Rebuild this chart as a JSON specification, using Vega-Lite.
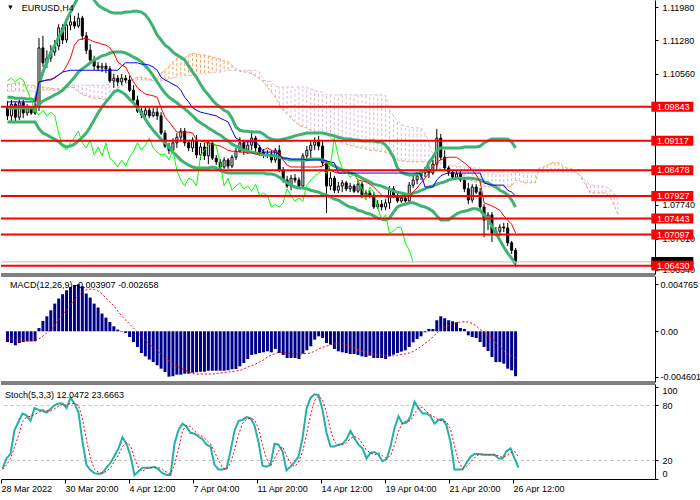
{
  "$schema": "https://vega.github.io/schema/vega-lite/v6.json",
  "background": "white",
  "padding": 0,
  "autosize": {"type": "pad"},
  "bounds": "flush",
  "spacing": 2,
  "resolve": {"scale": {"x": "independent", "y": "independent"}},
  "datasets": {
    "levels": [
      {"p": 1.09843}, {"p": 1.09117}, {"p": 1.08478}, {"p": 1.07927},
      {"p": 1.07443}, {"p": 1.07097}, {"p": 1.06430}
    ],
    "bars": [
      {"i":0,"o":1.0982,"h":1.0997,"l":1.0956,"c":1.0965,"bu":1.1005,"bm":1.0982,"bl":1.0952,"tk":1.0984,"kj":1.0995,"ck":1.1040,"m":-0.00109,"s":-0.00071,"k":11,"d":10},
      {"i":1,"o":1.0965,"h":1.0999,"l":1.0954,"c":1.0990,"bu":1.1005,"bm":1.0982,"bl":1.0952,"tk":1.0984,"kj":1.0995,"ck":1.1046,"m":-0.00119,"s":-0.00078,"k":22,"d":15},
      {"i":2,"o":1.0990,"h":1.0995,"l":1.0952,"c":1.0962,"bu":1.1003,"bm":1.0982,"bl":1.0952,"tk":1.0984,"kj":1.0995,"ck":1.1038,"m":-0.00142,"s":-0.00088,"k":27,"d":22},
      {"i":3,"o":1.0962,"h":1.1001,"l":1.0956,"c":1.0993,"bu":1.1003,"bm":1.0982,"bl":1.0952,"tk":1.0986,"kj":1.0995,"ck":1.1046,"m":-0.00119,"s":-0.00093,"k":53,"d":34},
      {"i":4,"o":1.0993,"h":1.0999,"l":1.0960,"c":1.0971,"bu":1.1003,"bm":1.0982,"bl":1.0952,"tk":1.0986,"kj":1.0995,"ck":1.1042,"m":-0.00109,"s":-0.00098,"k":62,"d":47},
      {"i":5,"o":1.0971,"h":1.0990,"l":1.0965,"c":1.0980,"bu":1.1001,"bm":1.0982,"bl":1.0952,"tk":1.0984,"kj":1.0995,"ck":1.1020,"m":-0.00102,"s":-0.00098,"k":71,"d":62},
      {"i":6,"o":1.0980,"h":1.0986,"l":1.0967,"c":1.0971,"bu":1.1001,"bm":1.0982,"bl":1.0952,"tk":1.0984,"kj":1.0995,"ck":1.0999,"m":-0.00102,"s":-0.00098,"k":69,"d":67},
      {"i":7,"o":1.0971,"h":1.0993,"l":1.0967,"c":1.0984,"bu":1.0999,"bm":1.0984,"bl":1.0952,"tk":1.0982,"kj":1.0995,"ck":1.0975,"m":-0.00102,"s":-0.00088,"k":63,"d":68},
      {"i":8,"o":1.0984,"h":1.1132,"l":1.0975,"c":1.1111,"bu":1.1031,"bm":1.0990,"bl":1.0937,"tk":1.1038,"kj":1.1038,"ck":1.0967,"m":0.00033,"s":-0.00078,"k":77,"d":70},
      {"i":9,"o":1.1111,"h":1.1137,"l":1.1070,"c":1.1079,"bu":1.1059,"bm":1.0997,"bl":1.0928,"tk":1.1040,"kj":1.1040,"ck":1.0977,"m":0.00105,"s":-0.00048,"k":75,"d":72},
      {"i":10,"o":1.1079,"h":1.1106,"l":1.1068,"c":1.1089,"bu":1.1081,"bm":1.1001,"bl":1.0924,"tk":1.1042,"kj":1.1042,"ck":1.0965,"m":0.00152,"s":-0.00017,"k":74,"d":75},
      {"i":11,"o":1.1089,"h":1.1117,"l":1.1081,"c":1.1102,"bu":1.1102,"bm":1.1005,"bl":1.0919,"tk":1.1044,"kj":1.1042,"ck":1.0973,"m":0.00213,"s":0.00013,"k":72,"d":74},
      {"i":12,"o":1.1102,"h":1.1128,"l":1.1094,"c":1.1115,"bu":1.1117,"bm":1.1010,"bl":1.0915,"tk":1.1046,"kj":1.1048,"ck":1.0965,"m":0.00281,"s":0.00064,"k":76,"d":74},
      {"i":13,"o":1.1115,"h":1.1162,"l":1.1106,"c":1.1154,"bu":1.1134,"bm":1.1014,"bl":1.0909,"tk":1.1053,"kj":1.1053,"ck":1.0928,"m":0.00332,"s":0.00115,"k":80,"d":76},
      {"i":14,"o":1.1154,"h":1.1162,"l":1.1119,"c":1.1128,"bu":1.1149,"bm":1.1020,"bl":1.0902,"tk":1.1059,"kj":1.1059,"ck":1.0900,"m":0.00376,"s":0.00175,"k":82,"d":79},
      {"i":15,"o":1.1128,"h":1.1171,"l":1.1122,"c":1.1160,"bu":1.1171,"bm":1.1029,"bl":1.0898,"tk":1.1072,"kj":1.1061,"ck":1.0891,"m":0.00416,"s":0.00216,"k":82,"d":81},
      {"i":16,"o":1.1160,"h":1.1184,"l":1.1149,"c":1.1167,"bu":1.1188,"bm":1.1038,"bl":1.0900,"tk":1.1089,"kj":1.1063,"ck":1.0907,"m":0.00450,"s":0.00267,"k":77,"d":80},
      {"i":17,"o":1.1167,"h":1.1180,"l":1.1152,"c":1.1158,"bu":1.1205,"bm":1.1048,"bl":1.0904,"tk":1.1117,"kj":1.1063,"ck":1.0919,"m":0.00470,"s":0.00317,"k":88,"d":82},
      {"i":18,"o":1.1158,"h":1.1186,"l":1.1154,"c":1.1175,"bu":1.1220,"bm":1.1059,"bl":1.0911,"tk":1.1128,"kj":1.1063,"ck":1.0932,"m":0.004765,"s":0.00358,"k":82,"d":82},
      {"i":19,"o":1.1175,"h":1.1180,"l":1.1128,"c":1.1137,"bu":1.1231,"bm":1.1066,"bl":1.0919,"tk":1.1130,"kj":1.1063,"ck":1.0907,"m":0.00457,"s":0.00399,"k":72,"d":80},
      {"i":20,"o":1.1137,"h":1.1145,"l":1.1098,"c":1.1106,"bu":1.1236,"bm":1.1072,"bl":1.0928,"tk":1.1132,"kj":1.1063,"ck":1.0896,"m":0.00383,"s":0.00419,"k":40,"d":65},
      {"i":21,"o":1.1106,"h":1.1119,"l":1.1079,"c":1.1085,"bu":1.1227,"bm":1.1079,"bl":1.0941,"tk":1.1128,"kj":1.1063,"ck":1.0913,"m":0.00342,"s":0.00429,"k":15,"d":42},
      {"i":22,"o":1.1085,"h":1.1094,"l":1.1063,"c":1.1072,"bu":1.1214,"bm":1.1085,"bl":1.0956,"tk":1.1124,"kj":1.1063,"ck":1.0881,"m":0.00281,"s":0.00424,"k":9,"d":22},
      {"i":23,"o":1.1072,"h":1.1081,"l":1.1061,"c":1.1068,"bu":1.1203,"bm":1.1089,"bl":1.0971,"tk":1.1122,"kj":1.1063,"ck":1.0898,"m":0.00241,"s":0.00409,"k":6,"d":10},
      {"i":24,"o":1.1068,"h":1.1079,"l":1.1059,"c":1.1072,"bu":1.1197,"bm":1.1094,"bl":1.0984,"tk":1.1119,"kj":1.1063,"ck":1.0879,"m":0.00180,"s":0.00378,"k":5,"d":7},
      {"i":25,"o":1.1072,"h":1.1079,"l":1.1057,"c":1.1066,"bu":1.1193,"bm":1.1096,"bl":1.0995,"tk":1.1117,"kj":1.1063,"ck":1.0907,"m":0.00139,"s":0.00338,"k":6,"d":6},
      {"i":26,"o":1.1066,"h":1.1072,"l":1.1036,"c":1.1040,"bu":1.1188,"bm":1.1100,"bl":1.1005,"tk":1.1111,"kj":1.1063,"ck":1.0874,"m":0.00094,"s":0.00297,"k":12,"d":8},
      {"i":27,"o":1.1040,"h":1.1055,"l":1.1025,"c":1.1046,"bu":1.1186,"bm":1.1102,"bl":1.1016,"tk":1.1100,"kj":1.1063,"ck":1.0866,"m":0.00051,"s":0.00257,"k":17,"d":12},
      {"i":28,"o":1.1046,"h":1.1053,"l":1.1029,"c":1.1038,"bu":1.1186,"bm":1.1102,"bl":1.1020,"tk":1.1081,"kj":1.1063,"ck":1.0855,"m":0.00017,"s":0.00206,"k":25,"d":19},
      {"i":29,"o":1.1038,"h":1.1055,"l":1.1031,"c":1.1046,"bu":1.1186,"bm":1.1102,"bl":1.1016,"tk":1.1074,"kj":1.1072,"ck":1.0870,"m":-0.00005,"s":0.00155,"k":33,"d":26},
      {"i":30,"o":1.1046,"h":1.1053,"l":1.1036,"c":1.1042,"bu":1.1188,"bm":1.1100,"bl":1.1010,"tk":1.1070,"kj":1.1079,"ck":1.0857,"m":-0.00017,"s":0.00115,"k":45,"d":35},
      {"i":31,"o":1.1042,"h":1.1051,"l":1.1016,"c":1.1020,"bu":1.1188,"bm":1.1096,"bl":1.1001,"tk":1.1053,"kj":1.1079,"ck":1.0876,"m":-0.00058,"s":0.00074,"k":38,"d":39},
      {"i":32,"o":1.1020,"h":1.1031,"l":1.0993,"c":1.0999,"bu":1.1190,"bm":1.1091,"bl":1.0993,"tk":1.1038,"kj":1.1079,"ck":1.0889,"m":-0.00109,"s":0.00033,"k":25,"d":36},
      {"i":33,"o":1.0999,"h":1.1008,"l":1.0971,"c":1.0975,"bu":1.1190,"bm":1.1087,"bl":1.0982,"tk":1.1025,"kj":1.1079,"ck":1.0907,"m":-0.00159,"s":-0.00007,"k":4,"d":22},
      {"i":34,"o":1.0975,"h":1.0982,"l":1.0960,"c":1.0967,"bu":1.1188,"bm":1.1081,"bl":1.0971,"tk":1.1018,"kj":1.1076,"ck":1.0891,"m":-0.00220,"s":-0.00048,"k":8,"d":12},
      {"i":35,"o":1.0967,"h":1.0984,"l":1.0962,"c":1.0977,"bu":1.1182,"bm":1.1072,"bl":1.0958,"tk":1.1012,"kj":1.1076,"ck":1.0902,"m":-0.00254,"s":-0.00088,"k":12,"d":8},
      {"i":36,"o":1.0977,"h":1.0982,"l":1.0960,"c":1.0965,"bu":1.1171,"bm":1.1063,"bl":1.0945,"tk":1.1010,"kj":1.1074,"ck":1.0917,"m":-0.00287,"s":-0.00129,"k":12,"d":11},
      {"i":37,"o":1.0965,"h":1.0982,"l":1.0962,"c":1.0973,"bu":1.1156,"bm":1.1051,"bl":1.0934,"tk":1.1008,"kj":1.1070,"ck":1.0896,"m":-0.00312,"s":-0.00159,"k":12,"d":12},
      {"i":38,"o":1.0973,"h":1.0984,"l":1.0956,"c":1.0965,"bu":1.1139,"bm":1.1038,"bl":1.0924,"tk":1.1005,"kj":1.1063,"ck":1.0887,"m":-0.00345,"s":-0.00190,"k":13,"d":12},
      {"i":39,"o":1.0965,"h":1.0973,"l":1.0924,"c":1.0928,"bu":1.1128,"bm":1.1025,"bl":1.0915,"tk":1.0982,"kj":1.1048,"ck":1.0881,"m":-0.00379,"s":-0.00230,"k":10,"d":12},
      {"i":40,"o":1.0928,"h":1.0934,"l":1.0896,"c":1.0900,"bu":1.1117,"bm":1.1014,"bl":1.0907,"tk":1.0962,"kj":1.1042,"ck":1.0883,"m":-0.00413,"s":-0.00271,"k":6,"d":10},
      {"i":41,"o":1.0900,"h":1.0907,"l":1.0883,"c":1.0891,"bu":1.1111,"bm":1.1005,"bl":1.0898,"tk":1.0952,"kj":1.1038,"ck":1.0870,"m":-0.00460,"s":-0.00301,"k":4,"d":7},
      {"i":42,"o":1.0891,"h":1.0917,"l":1.0887,"c":1.0907,"bu":1.1102,"bm":1.0999,"bl":1.0887,"tk":1.0941,"kj":1.1033,"ck":1.0891,"m":-0.00455,"s":-0.00332,"k":4,"d":5},
      {"i":43,"o":1.0907,"h":1.0928,"l":1.0896,"c":1.0919,"bu":1.1096,"bm":1.0993,"bl":1.0879,"tk":1.0930,"kj":1.1029,"ck":1.0848,"m":-0.00440,"s":-0.00357,"k":38,"d":15},
      {"i":44,"o":1.0919,"h":1.0939,"l":1.0913,"c":1.0932,"bu":1.1091,"bm":1.0986,"bl":1.0870,"tk":1.0930,"kj":1.1020,"ck":1.0827,"m":-0.00440,"s":-0.00372,"k":53,"d":32},
      {"i":45,"o":1.0932,"h":1.0939,"l":1.0900,"c":1.0907,"bu":1.1085,"bm":1.0980,"bl":1.0864,"tk":1.0930,"kj":1.1005,"ck":1.0814,"m":-0.00430,"s":-0.00392,"k":60,"d":52},
      {"i":46,"o":1.0907,"h":1.0913,"l":1.0889,"c":1.0896,"bu":1.1072,"bm":1.0973,"bl":1.0859,"tk":1.0930,"kj":1.0995,"ck":1.0831,"m":-0.00430,"s":-0.00413,"k":57,"d":58},
      {"i":47,"o":1.0896,"h":1.0919,"l":1.0887,"c":1.0913,"bu":1.1059,"bm":1.0965,"bl":1.0855,"tk":1.0928,"kj":1.0982,"ck":1.0827,"m":-0.00420,"s":-0.00428,"k":50,"d":57},
      {"i":48,"o":1.0913,"h":1.0924,"l":1.0874,"c":1.0881,"bu":1.1048,"bm":1.0956,"bl":1.0853,"tk":1.0913,"kj":1.0977,"ck":1.0814,"m":-0.00415,"s":-0.00433,"k":49,"d":52},
      {"i":49,"o":1.0881,"h":1.0907,"l":1.0870,"c":1.0898,"bu":1.1033,"bm":1.0950,"bl":1.0853,"tk":1.0911,"kj":1.0973,"ck":1.0879,"m":-0.00410,"s":-0.00433,"k":46,"d":48},
      {"i":50,"o":1.0898,"h":1.0907,"l":1.0870,"c":1.0879,"bu":1.1020,"bm":1.0945,"bl":1.0853,"tk":1.0909,"kj":1.0971,"ck":1.0891,"m":-0.00410,"s":-0.00433,"k":43,"d":46},
      {"i":51,"o":1.0879,"h":1.0913,"l":1.0861,"c":1.0907,"bu":1.1010,"bm":1.0939,"bl":1.0853,"tk":1.0907,"kj":1.0969,"ck":1.0902,"m":-0.00400,"s":-0.00433,"k":37,"d":42},
      {"i":52,"o":1.0907,"h":1.0911,"l":1.0870,"c":1.0874,"bu":1.0999,"bm":1.0934,"bl":1.0855,"tk":1.0904,"kj":1.0967,"ck":1.0909,"m":-0.00400,"s":-0.00433,"k":35,"d":38},
      {"i":53,"o":1.0874,"h":1.0881,"l":1.0859,"c":1.0866,"bu":1.0990,"bm":1.0928,"bl":1.0853,"tk":1.0902,"kj":1.0965,"ck":1.0900,"m":-0.00400,"s":-0.00428,"k":15,"d":29},
      {"i":54,"o":1.0866,"h":1.0872,"l":1.0848,"c":1.0855,"bu":1.0984,"bm":1.0924,"bl":1.0848,"tk":1.0900,"kj":1.0960,"ck":1.0864,"m":-0.00400,"s":-0.00423,"k":10,"d":20},
      {"i":55,"o":1.0855,"h":1.0876,"l":1.0851,"c":1.0870,"bu":1.0977,"bm":1.0917,"bl":1.0844,"tk":1.0896,"kj":1.0956,"ck":1.0814,"m":-0.00400,"s":-0.00418,"k":10,"d":12},
      {"i":56,"o":1.0870,"h":1.0874,"l":1.0851,"c":1.0857,"bu":1.0973,"bm":1.0911,"bl":1.0842,"tk":1.0891,"kj":1.0952,"ck":1.0831,"m":-0.00395,"s":-0.00413,"k":11,"d":10},
      {"i":57,"o":1.0857,"h":1.0881,"l":1.0853,"c":1.0876,"bu":1.0960,"bm":1.0904,"bl":1.0842,"tk":1.0889,"kj":1.0934,"ck":1.0805,"m":-0.00385,"s":-0.00408,"k":30,"d":17},
      {"i":58,"o":1.0876,"h":1.0896,"l":1.0870,"c":1.0889,"bu":1.0941,"bm":1.0900,"bl":1.0842,"tk":1.0889,"kj":1.0917,"ck":1.0814,"m":-0.00382,"s":-0.00403,"k":52,"d":31},
      {"i":59,"o":1.0889,"h":1.0919,"l":1.0887,"c":1.0907,"bu":1.0934,"bm":1.0896,"bl":1.0842,"tk":1.0887,"kj":1.0913,"ck":1.0821,"m":-0.00355,"s":-0.00397,"k":63,"d":48},
      {"i":60,"o":1.0907,"h":1.0913,"l":1.0881,"c":1.0891,"bu":1.0932,"bm":1.0891,"bl":1.0842,"tk":1.0887,"kj":1.0909,"ck":1.0808,"m":-0.00321,"s":-0.00382,"k":64,"d":60},
      {"i":61,"o":1.0891,"h":1.0911,"l":1.0883,"c":1.0902,"bu":1.0932,"bm":1.0889,"bl":1.0842,"tk":1.0885,"kj":1.0909,"ck":1.0814,"m":-0.00281,"s":-0.00362,"k":67,"d":65},
      {"i":62,"o":1.0902,"h":1.0934,"l":1.0891,"c":1.0917,"bu":1.0930,"bm":1.0887,"bl":1.0842,"tk":1.0885,"kj":1.0909,"ck":1.0803,"m":-0.00240,"s":-0.00347,"k":66,"d":66},
      {"i":63,"o":1.0917,"h":1.0922,"l":1.0887,"c":1.0896,"bu":1.0930,"bm":1.0885,"bl":1.0842,"tk":1.0883,"kj":1.0909,"ck":1.0818,"m":-0.00233,"s":-0.00332,"k":58,"d":64},
      {"i":64,"o":1.0896,"h":1.0902,"l":1.0879,"c":1.0887,"bu":1.0930,"bm":1.0883,"bl":1.0842,"tk":1.0883,"kj":1.0900,"ck":1.0793,"m":-0.00220,"s":-0.00311,"k":40,"d":55},
      {"i":65,"o":1.0887,"h":1.0894,"l":1.0874,"c":1.0881,"bu":1.0926,"bm":1.0881,"bl":1.0842,"tk":1.0891,"kj":1.0887,"ck":1.0799,"m":-0.00213,"s":-0.00291,"k":14,"d":37},
      {"i":66,"o":1.0881,"h":1.0891,"l":1.0874,"c":1.0883,"bu":1.0919,"bm":1.0881,"bl":1.0840,"tk":1.0896,"kj":1.0887,"ck":1.0793,"m":-0.00203,"s":-0.00261,"k":13,"d":22},
      {"i":67,"o":1.0883,"h":1.0891,"l":1.0864,"c":1.0870,"bu":1.0915,"bm":1.0879,"bl":1.0840,"tk":1.0891,"kj":1.0887,"ck":1.0769,"m":-0.00213,"s":-0.00240,"k":15,"d":14},
      {"i":68,"o":1.0870,"h":1.0896,"l":1.0864,"c":1.0891,"bu":1.0913,"bm":1.0879,"bl":1.0838,"tk":1.0887,"kj":1.0887,"ck":1.0775,"m":-0.00179,"s":-0.00225,"k":38,"d":22},
      {"i":69,"o":1.0891,"h":1.0902,"l":1.0844,"c":1.0848,"bu":1.0913,"bm":1.0876,"bl":1.0833,"tk":1.0885,"kj":1.0881,"ck":1.0769,"m":-0.00220,"s":-0.00210,"k":37,"d":30},
      {"i":70,"o":1.0848,"h":1.0855,"l":1.0821,"c":1.0827,"bu":1.0915,"bm":1.0874,"bl":1.0827,"tk":1.0870,"kj":1.0874,"ck":1.0778,"m":-0.00240,"s":-0.00215,"k":30,"d":35},
      {"i":71,"o":1.0827,"h":1.0836,"l":1.0810,"c":1.0814,"bu":1.0917,"bm":1.0872,"bl":1.0821,"tk":1.0859,"kj":1.0874,"ck":1.0808,"m":-0.00271,"s":-0.00220,"k":9,"d":25},
      {"i":72,"o":1.0814,"h":1.0838,"l":1.0805,"c":1.0831,"bu":1.0919,"bm":1.0870,"bl":1.0816,"tk":1.0855,"kj":1.0872,"ck":1.0793,"m":-0.00271,"s":-0.00225,"k":13,"d":17},
      {"i":73,"o":1.0831,"h":1.0840,"l":1.0821,"c":1.0827,"bu":1.0922,"bm":1.0870,"bl":1.0812,"tk":1.0855,"kj":1.0872,"ck":1.0782,"m":-0.00271,"s":-0.00230,"k":18,"d":13},
      {"i":74,"o":1.0827,"h":1.0833,"l":1.0808,"c":1.0814,"bu":1.0924,"bm":1.0870,"bl":1.0810,"tk":1.0855,"kj":1.0872,"ck":1.0788,"m":-0.00281,"s":-0.00230,"k":24,"d":18},
      {"i":75,"o":1.0814,"h":1.0885,"l":1.0808,"c":1.0879,"bu":1.0926,"bm":1.0870,"bl":1.0810,"tk":1.0855,"kj":1.0872,"ck":1.0782,"m":-0.00227,"s":-0.00230,"k":44,"d":29},
      {"i":76,"o":1.0879,"h":1.0900,"l":1.0870,"c":1.0891,"bu":1.0928,"bm":1.0870,"bl":1.0808,"tk":1.0855,"kj":1.0870,"ck":1.0816,"m":-0.00193,"s":-0.00225,"k":76,"d":48},
      {"i":77,"o":1.0891,"h":1.0913,"l":1.0874,"c":1.0902,"bu":1.0928,"bm":1.0872,"bl":1.0805,"tk":1.0855,"kj":1.0870,"ck":1.0827,"m":-0.00152,"s":-0.00220,"k":88,"d":69},
      {"i":78,"o":1.0902,"h":1.0919,"l":1.0891,"c":1.0909,"bu":1.0928,"bm":1.0872,"bl":1.0803,"tk":1.0855,"kj":1.0870,"ck":1.0836,"m":-0.00085,"s":-0.00200,"k":92,"d":85},
      {"i":79,"o":1.0909,"h":1.0922,"l":1.0891,"c":1.0900,"bu":1.0928,"bm":1.0872,"bl":1.0801,"tk":1.0855,"kj":1.0870,"ck":1.0842,"m":-0.00051,"s":-0.00179,"k":91,"d":90},
      {"i":80,"o":1.0900,"h":1.0913,"l":1.0857,"c":1.0864,"bu":1.0928,"bm":1.0870,"bl":1.0797,"tk":1.0857,"kj":1.0870,"ck":1.0848,"m":-0.00068,"s":-0.00164,"k":75,"d":86},
      {"i":81,"o":1.0864,"h":1.0870,"l":1.0756,"c":1.0814,"bu":1.0926,"bm":1.0866,"bl":1.0795,"tk":1.0864,"kj":1.0868,"ck":1.0842,"m":-0.00119,"s":-0.00149,"k":50,"d":72},
      {"i":82,"o":1.0814,"h":1.0844,"l":1.0805,"c":1.0831,"bu":1.0924,"bm":1.0861,"bl":1.0790,"tk":1.0848,"kj":1.0866,"ck":1.0861,"m":-0.00135,"s":-0.00139,"k":35,"d":53},
      {"i":83,"o":1.0831,"h":1.0836,"l":1.0799,"c":1.0805,"bu":1.0922,"bm":1.0857,"bl":1.0786,"tk":1.0844,"kj":1.0864,"ck":1.0917,"m":-0.00179,"s":-0.00129,"k":35,"d":40},
      {"i":84,"o":1.0805,"h":1.0823,"l":1.0799,"c":1.0814,"bu":1.0919,"bm":1.0853,"bl":1.0784,"tk":1.0842,"kj":1.0842,"ck":1.0876,"m":-0.00203,"s":-0.00126,"k":37,"d":36},
      {"i":85,"o":1.0814,"h":1.0827,"l":1.0801,"c":1.0821,"bu":1.0917,"bm":1.0848,"bl":1.0778,"tk":1.0842,"kj":1.0842,"ck":1.0853,"m":-0.00213,"s":-0.00126,"k":38,"d":37},
      {"i":86,"o":1.0821,"h":1.0825,"l":1.0803,"c":1.0808,"bu":1.0915,"bm":1.0846,"bl":1.0773,"tk":1.0842,"kj":1.0842,"ck":1.0844,"m":-0.00220,"s":-0.00134,"k":43,"d":39},
      {"i":87,"o":1.0808,"h":1.0821,"l":1.0801,"c":1.0814,"bu":1.0915,"bm":1.0842,"bl":1.0769,"tk":1.0842,"kj":1.0842,"ck":1.0833,"m":-0.00230,"s":-0.00149,"k":52,"d":44},
      {"i":88,"o":1.0814,"h":1.0818,"l":1.0799,"c":1.0803,"bu":1.0913,"bm":1.0840,"bl":1.0767,"tk":1.0840,"kj":1.0842,"ck":1.0840,"m":-0.00230,"s":-0.00169,"k":44,"d":46},
      {"i":89,"o":1.0803,"h":1.0827,"l":1.0799,"c":1.0818,"bu":1.0913,"bm":1.0836,"bl":1.0762,"tk":1.0827,"kj":1.0842,"ck":1.0827,"m":-0.00240,"s":-0.00190,"k":37,"d":44},
      {"i":90,"o":1.0818,"h":1.0823,"l":1.0788,"c":1.0793,"bu":1.0911,"bm":1.0831,"bl":1.0760,"tk":1.0825,"kj":1.0842,"ck":1.0808,"m":-0.00254,"s":-0.00200,"k":33,"d":38},
      {"i":91,"o":1.0793,"h":1.0805,"l":1.0786,"c":1.0799,"bu":1.0911,"bm":1.0827,"bl":1.0756,"tk":1.0823,"kj":1.0842,"ck":1.0784,"m":-0.00261,"s":-0.00210,"k":22,"d":31},
      {"i":92,"o":1.0799,"h":1.0805,"l":1.0788,"c":1.0793,"bu":1.0911,"bm":1.0823,"bl":1.0754,"tk":1.0818,"kj":1.0842,"ck":1.0812,"m":-0.00247,"s":-0.00220,"k":28,"d":28},
      {"i":93,"o":1.0793,"h":1.0801,"l":1.0765,"c":1.0769,"bu":1.0911,"bm":1.0818,"bl":1.0750,"tk":1.0812,"kj":1.0842,"ck":1.0801,"m":-0.00271,"s":-0.00230,"k":29,"d":26},
      {"i":94,"o":1.0769,"h":1.0784,"l":1.0765,"c":1.0775,"bu":1.0909,"bm":1.0816,"bl":1.0745,"tk":1.0803,"kj":1.0842,"ck":1.0769,"m":-0.00271,"s":-0.00240,"k":26,"d":28},
      {"i":95,"o":1.0775,"h":1.0784,"l":1.0762,"c":1.0769,"bu":1.0909,"bm":1.0814,"bl":1.0743,"tk":1.0795,"kj":1.0842,"ck":1.0741,"m":-0.00271,"s":-0.00243,"k":19,"d":25},
      {"i":96,"o":1.0769,"h":1.0786,"l":1.0762,"c":1.0778,"bu":1.0902,"bm":1.0810,"bl":1.0741,"tk":1.0790,"kj":1.0842,"ck":1.0752,"m":-0.00281,"s":-0.00250,"k":21,"d":22},
      {"i":97,"o":1.0778,"h":1.0814,"l":1.0765,"c":1.0808,"bu":1.0891,"bm":1.0808,"bl":1.0745,"tk":1.0790,"kj":1.0842,"ck":1.0713,"m":-0.00254,"s":-0.00250,"k":35,"d":25},
      {"i":98,"o":1.0808,"h":1.0814,"l":1.0788,"c":1.0793,"bu":1.0876,"bm":1.0803,"bl":1.0758,"tk":1.0790,"kj":1.0842,"ck":1.0717,"m":-0.00237,"s":-0.00250,"k":55,"d":37},
      {"i":99,"o":1.0793,"h":1.0799,"l":1.0778,"c":1.0782,"bu":1.0853,"bm":1.0801,"bl":1.0769,"tk":1.0790,"kj":1.0842,"ck":1.0726,"m":-0.00220,"s":-0.00243,"k":68,"d":52},
      {"i":100,"o":1.0782,"h":1.0795,"l":1.0778,"c":1.0788,"bu":1.0844,"bm":1.0799,"bl":1.0773,"tk":1.0790,"kj":1.0842,"ck":1.0724,"m":-0.00206,"s":-0.00235,"k":60,"d":61},
      {"i":101,"o":1.0788,"h":1.0795,"l":1.0778,"c":1.0782,"bu":1.0840,"bm":1.0797,"bl":1.0775,"tk":1.0790,"kj":1.0842,"ck":1.0692,"m":-0.00193,"s":-0.00230,"k":61,"d":63},
      {"i":102,"o":1.0782,"h":1.0823,"l":1.0778,"c":1.0816,"bu":1.0838,"bm":1.0795,"bl":1.0778,"tk":1.0793,"kj":1.0842,"ck":1.0676,"m":-0.00159,"s":-0.00220,"k":68,"d":63},
      {"i":103,"o":1.0816,"h":1.0836,"l":1.0810,"c":1.0827,"bu":1.0838,"bm":1.0799,"bl":1.0778,"tk":1.0801,"kj":1.0842,"ck":1.0651,"m":-0.00112,"s":-0.00205,"k":84,"d":71},
      {"i":104,"o":1.0827,"h":1.0844,"l":1.0818,"c":1.0836,"bu":1.0840,"bm":1.0801,"bl":1.0775,"tk":1.0810,"kj":1.0842,"m":-0.00078,"s":-0.00179,"k":77,"d":77},
      {"i":105,"o":1.0836,"h":1.0848,"l":1.0827,"c":1.0842,"bu":1.0844,"bm":1.0805,"bl":1.0771,"tk":1.0821,"kj":1.0840,"m":-0.00051,"s":-0.00156,"k":71,"d":78},
      {"i":106,"o":1.0842,"h":1.0855,"l":1.0833,"c":1.0848,"bu":1.0848,"bm":1.0808,"bl":1.0769,"tk":1.0831,"kj":1.0812,"m":-0.00010,"s":-0.00124,"k":71,"d":73},
      {"i":107,"o":1.0848,"h":1.0857,"l":1.0831,"c":1.0842,"bu":1.0864,"bm":1.0812,"bl":1.0765,"tk":1.0842,"kj":1.0812,"m":0.00024,"s":-0.00093,"k":68,"d":70},
      {"i":108,"o":1.0842,"h":1.0870,"l":1.0838,"c":1.0861,"bu":1.0876,"bm":1.0814,"bl":1.0760,"tk":1.0855,"kj":1.0812,"m":0.00024,"s":-0.00058,"k":60,"d":67},
      {"i":109,"o":1.0861,"h":1.0937,"l":1.0848,"c":1.0917,"bu":1.0891,"bm":1.0818,"bl":1.0750,"tk":1.0866,"kj":1.0827,"m":0.00112,"s":-0.00017,"k":64,"d":64},
      {"i":110,"o":1.0917,"h":1.0926,"l":1.0870,"c":1.0876,"bu":1.0896,"bm":1.0821,"bl":1.0741,"tk":1.0870,"kj":1.0836,"m":0.00152,"s":0.00020,"k":65,"d":63},
      {"i":111,"o":1.0876,"h":1.0891,"l":1.0848,"c":1.0853,"bu":1.0896,"bm":1.0823,"bl":1.0741,"tk":1.0874,"kj":1.0840,"m":0.00132,"s":0.00044,"k":58,"d":62},
      {"i":112,"o":1.0853,"h":1.0857,"l":1.0836,"c":1.0844,"bu":1.0896,"bm":1.0827,"bl":1.0741,"tk":1.0876,"kj":1.0842,"m":0.00112,"s":0.00059,"k":40,"d":54},
      {"i":113,"o":1.0844,"h":1.0848,"l":1.0827,"c":1.0833,"bu":1.0896,"bm":1.0829,"bl":1.0748,"tk":1.0876,"kj":1.0842,"m":0.00102,"s":0.00074,"k":10,"d":36},
      {"i":114,"o":1.0833,"h":1.0846,"l":1.0829,"c":1.0840,"bu":1.0896,"bm":1.0831,"bl":1.0754,"tk":1.0876,"kj":1.0842,"m":0.00091,"s":0.00087,"k":10,"d":19},
      {"i":115,"o":1.0840,"h":1.0846,"l":1.0823,"c":1.0827,"bu":1.0896,"bm":1.0831,"bl":1.0758,"tk":1.0870,"kj":1.0842,"m":0.00034,"s":0.00094,"k":10,"d":11},
      {"i":116,"o":1.0827,"h":1.0831,"l":1.0801,"c":1.0808,"bu":1.0898,"bm":1.0831,"bl":1.0760,"tk":1.0864,"kj":1.0842,"m":0.00024,"s":0.00097,"k":17,"d":13},
      {"i":117,"o":1.0808,"h":1.0821,"l":1.0775,"c":1.0784,"bu":1.0898,"bm":1.0831,"bl":1.0762,"tk":1.0857,"kj":1.0842,"m":-0.00041,"s":0.00094,"k":24,"d":18},
      {"i":118,"o":1.0784,"h":1.0818,"l":1.0778,"c":1.0812,"bu":1.0898,"bm":1.0831,"bl":1.0765,"tk":1.0848,"kj":1.0842,"m":-0.00058,"s":0.00079,"k":27,"d":23},
      {"i":119,"o":1.0812,"h":1.0818,"l":1.0797,"c":1.0801,"bu":1.0898,"bm":1.0829,"bl":1.0765,"tk":1.0838,"kj":1.0842,"m":-0.00068,"s":0.00054,"k":27,"d":26},
      {"i":120,"o":1.0801,"h":1.0810,"l":1.0765,"c":1.0769,"bu":1.0900,"bm":1.0827,"bl":1.0762,"tk":1.0823,"kj":1.0842,"m":-0.00109,"s":0.00018,"k":26,"d":27},
      {"i":121,"o":1.0769,"h":1.0775,"l":1.0704,"c":1.0741,"bu":1.0907,"bm":1.0823,"bl":1.0752,"tk":1.0778,"kj":1.0821,"m":-0.00159,"s":-0.00007,"k":26,"d":26},
      {"i":122,"o":1.0741,"h":1.0758,"l":1.0719,"c":1.0752,"bu":1.0911,"bm":1.0821,"bl":1.0741,"tk":1.0775,"kj":1.0818,"m":-0.00200,"s":-0.00032,"k":26,"d":26},
      {"i":123,"o":1.0752,"h":1.0758,"l":1.0694,"c":1.0713,"bu":1.0915,"bm":1.0816,"bl":1.0728,"tk":1.0771,"kj":1.0816,"m":-0.00261,"s":-0.00068,"k":26,"d":26},
      {"i":124,"o":1.0713,"h":1.0726,"l":1.0707,"c":1.0717,"bu":1.0915,"bm":1.0812,"bl":1.0713,"tk":1.0767,"kj":1.0816,"m":-0.00312,"s":-0.00119,"k":22,"d":25},
      {"i":125,"o":1.0717,"h":1.0732,"l":1.0707,"c":1.0726,"bu":1.0915,"bm":1.0805,"bl":1.0698,"tk":1.0762,"kj":1.0816,"m":-0.00312,"s":-0.00159,"k":22,"d":23},
      {"i":126,"o":1.0726,"h":1.0735,"l":1.0715,"c":1.0724,"bu":1.0915,"bm":1.0801,"bl":1.0683,"tk":1.0750,"kj":1.0816,"m":-0.00328,"s":-0.00200,"k":30,"d":25},
      {"i":127,"o":1.0724,"h":1.0735,"l":1.0685,"c":1.0692,"bu":1.0915,"bm":1.0795,"bl":1.0670,"tk":1.0741,"kj":1.0805,"m":-0.00379,"s":-0.00230,"k":33,"d":28},
      {"i":128,"o":1.0692,"h":1.0696,"l":1.0668,"c":1.0676,"bu":1.0909,"bm":1.0784,"bl":1.0659,"tk":1.0732,"kj":1.0801,"m":-0.00396,"s":-0.00250,"k":22,"d":30},
      {"i":129,"o":1.0676,"h":1.0681,"l":1.0640,"c":1.0651,"bu":1.0896,"bm":1.0769,"bl":1.0646,"tk":1.0713,"kj":1.0793,"m":-0.00455,"s":-0.00266,"k":12,"d":24}
    ],
    "cloud": [
      {"i":0,"a":1.1033,"b":1.1018},{"i":1,"a":1.1033,"b":1.1018},{"i":2,"a":1.1036,"b":1.1018},{"i":3,"a":1.1036,"b":1.1018},
      {"i":4,"a":1.1033,"b":1.1018},{"i":5,"a":1.1031,"b":1.1018},{"i":6,"a":1.1031,"b":1.1018},{"i":7,"a":1.1029,"b":1.1018},
      {"i":8,"a":1.1027,"b":1.1020},{"i":9,"a":1.1027,"b":1.1020},{"i":10,"a":1.1025,"b":1.1020},{"i":11,"a":1.1025,"b":1.1020},
      {"i":12,"a":1.1023,"b":1.1020},{"i":13,"a":1.1023,"b":1.1020},{"i":14,"a":1.1025,"b":1.1025},{"i":15,"a":1.1025,"b":1.1027},
      {"i":16,"a":1.1027,"b":1.1029},{"i":17,"a":1.1025,"b":1.1031},{"i":18,"a":1.1016,"b":1.1031},{"i":19,"a":1.1010,"b":1.1031},
      {"i":20,"a":1.1008,"b":1.1031},{"i":21,"a":1.1005,"b":1.1031},{"i":22,"a":1.1003,"b":1.1031},{"i":23,"a":1.1003,"b":1.1031},
      {"i":24,"a":1.1001,"b":1.1031},{"i":25,"a":1.0999,"b":1.1031},{"i":26,"a":1.1003,"b":1.1033},{"i":27,"a":1.1016,"b":1.1038},
      {"i":28,"a":1.1025,"b":1.1042},{"i":29,"a":1.1029,"b":1.1042},{"i":30,"a":1.1033,"b":1.1042},{"i":31,"a":1.1040,"b":1.1042},
      {"i":32,"a":1.1044,"b":1.1042},{"i":33,"a":1.1048,"b":1.1042},{"i":34,"a":1.1048,"b":1.1042},{"i":35,"a":1.1046,"b":1.1042},
      {"i":36,"a":1.1044,"b":1.1042},{"i":37,"a":1.1042,"b":1.1040},{"i":38,"a":1.1046,"b":1.1038},{"i":39,"a":1.1057,"b":1.1040},
      {"i":40,"a":1.1063,"b":1.1042},{"i":41,"a":1.1072,"b":1.1044},{"i":42,"a":1.1081,"b":1.1046},{"i":43,"a":1.1089,"b":1.1048},
      {"i":44,"a":1.1091,"b":1.1048},{"i":45,"a":1.1089,"b":1.1051},{"i":46,"a":1.1096,"b":1.1051},{"i":47,"a":1.1100,"b":1.1053},
      {"i":48,"a":1.1098,"b":1.1053},{"i":49,"a":1.1096,"b":1.1055},{"i":50,"a":1.1096,"b":1.1055},{"i":51,"a":1.1094,"b":1.1057},
      {"i":52,"a":1.1091,"b":1.1057},{"i":53,"a":1.1089,"b":1.1059},{"i":54,"a":1.1087,"b":1.1059},{"i":55,"a":1.1083,"b":1.1061},
      {"i":56,"a":1.1081,"b":1.1063},{"i":57,"a":1.1074,"b":1.1063},{"i":58,"a":1.1066,"b":1.1063},{"i":59,"a":1.1061,"b":1.1063},
      {"i":60,"a":1.1059,"b":1.1063},{"i":61,"a":1.1059,"b":1.1063},{"i":62,"a":1.1055,"b":1.1063},{"i":63,"a":1.1051,"b":1.1063},
      {"i":64,"a":1.1044,"b":1.1059},{"i":65,"a":1.1038,"b":1.1042},{"i":66,"a":1.1027,"b":1.1040},{"i":67,"a":1.1016,"b":1.1038},
      {"i":68,"a":1.1005,"b":1.1029},{"i":69,"a":1.0990,"b":1.1027},{"i":70,"a":1.0977,"b":1.1027},{"i":71,"a":1.0969,"b":1.1027},
      {"i":72,"a":1.0960,"b":1.1027},{"i":73,"a":1.0952,"b":1.1027},{"i":74,"a":1.0945,"b":1.1027},{"i":75,"a":1.0941,"b":1.1027},
      {"i":76,"a":1.0939,"b":1.1025},{"i":77,"a":1.0934,"b":1.1023},{"i":78,"a":1.0932,"b":1.1020},{"i":79,"a":1.0930,"b":1.1016},
      {"i":80,"a":1.0930,"b":1.1016},{"i":81,"a":1.0926,"b":1.1010},{"i":82,"a":1.0917,"b":1.1010},{"i":83,"a":1.0913,"b":1.1010},
      {"i":84,"a":1.0911,"b":1.1010},{"i":85,"a":1.0907,"b":1.1010},{"i":86,"a":1.0904,"b":1.1010},{"i":87,"a":1.0902,"b":1.1010},
      {"i":88,"a":1.0900,"b":1.1010},{"i":89,"a":1.0896,"b":1.1010},{"i":90,"a":1.0896,"b":1.1010},{"i":91,"a":1.0894,"b":1.1010},
      {"i":92,"a":1.0891,"b":1.1010},{"i":93,"a":1.0891,"b":1.1010},{"i":94,"a":1.0889,"b":1.1010},{"i":95,"a":1.0889,"b":1.1010},
      {"i":96,"a":1.0887,"b":1.1008},{"i":97,"a":1.0883,"b":1.0977},{"i":98,"a":1.0876,"b":1.0965},{"i":99,"a":1.0870,"b":1.0954},
      {"i":100,"a":1.0868,"b":1.0947},{"i":101,"a":1.0868,"b":1.0943},{"i":102,"a":1.0866,"b":1.0941},{"i":103,"a":1.0866,"b":1.0939},
      {"i":104,"a":1.0866,"b":1.0939},{"i":105,"a":1.0866,"b":1.0939},{"i":106,"a":1.0866,"b":1.0928},{"i":107,"a":1.0866,"b":1.0909},
      {"i":108,"a":1.0866,"b":1.0881},{"i":109,"a":1.0861,"b":1.0866},{"i":110,"a":1.0848,"b":1.0864},{"i":111,"a":1.0846,"b":1.0861},
      {"i":112,"a":1.0844,"b":1.0859},{"i":113,"a":1.0844,"b":1.0859},{"i":114,"a":1.0842,"b":1.0857},{"i":115,"a":1.0842,"b":1.0857},
      {"i":116,"a":1.0836,"b":1.0855},{"i":117,"a":1.0829,"b":1.0855},{"i":118,"a":1.0825,"b":1.0853},{"i":119,"a":1.0823,"b":1.0853},
      {"i":120,"a":1.0821,"b":1.0853},{"i":121,"a":1.0814,"b":1.0846},{"i":122,"a":1.0812,"b":1.0842},{"i":123,"a":1.0812,"b":1.0842},
      {"i":124,"a":1.0812,"b":1.0842},{"i":125,"a":1.0812,"b":1.0844},{"i":126,"a":1.0812,"b":1.0844},{"i":127,"a":1.0812,"b":1.0844},
      {"i":128,"a":1.0814,"b":1.0844},{"i":129,"a":1.0827,"b":1.0844},{"i":130,"a":1.0825,"b":1.0844},{"i":131,"a":1.0821,"b":1.0842},
      {"i":132,"a":1.0821,"b":1.0842},{"i":133,"a":1.0821,"b":1.0842},{"i":134,"a":1.0821,"b":1.0844},{"i":135,"a":1.0853,"b":1.0844},
      {"i":136,"a":1.0855,"b":1.0844},{"i":137,"a":1.0859,"b":1.0844},{"i":138,"a":1.0864,"b":1.0844},{"i":139,"a":1.0864,"b":1.0844},
      {"i":140,"a":1.0864,"b":1.0844},{"i":141,"a":1.0857,"b":1.0844},{"i":142,"a":1.0853,"b":1.0844},{"i":143,"a":1.0853,"b":1.0844},
      {"i":144,"a":1.0846,"b":1.0844},{"i":145,"a":1.0840,"b":1.0840},{"i":146,"a":1.0827,"b":1.0833},{"i":147,"a":1.0814,"b":1.0823},
      {"i":148,"a":1.0799,"b":1.0816},{"i":149,"a":1.0799,"b":1.0816},{"i":150,"a":1.0799,"b":1.0814},{"i":151,"a":1.0799,"b":1.0814},
      {"i":152,"a":1.0799,"b":1.0812},{"i":153,"a":1.0790,"b":1.0808},{"i":154,"a":1.0773,"b":1.0799},{"i":155,"a":1.0752,"b":1.0784}
    ]
  },
  "vconcat": [
    {
      "width": 654,
      "height": 274,
      "layer": [
        {
          "data": {"name": "cloud"},
          "mark": {"type": "rule", "strokeDash": [3, 2], "strokeWidth": 1, "clip": true},
          "encoding": {
            "x": {"field": "i", "type": "quantitative", "scale": {"domain": [-0.375, 163.125], "nice": false, "zero": false}, "axis": null},
            "y": {"field": "a", "type": "quantitative", "title": null},
            "y2": {"field": "b"},
            "color": {"condition": {"test": "datum.a >= datum.b", "value": "#f4a460"}, "value": "#d8bfd8"}
          }
        },
        {
          "data": {"name": "cloud"},
          "mark": {"type": "line", "color": "#f4a460", "strokeDash": [3, 2], "strokeWidth": 1, "clip": true},
          "encoding": {
            "x": {"field": "i", "type": "quantitative", "scale": {"domain": [-0.375, 163.125], "nice": false, "zero": false}, "axis": null},
            "y": {"field": "a", "type": "quantitative", "title": null}
          }
        },
        {
          "data": {"name": "cloud"},
          "mark": {"type": "line", "color": "#d8bfd8", "strokeDash": [3, 2], "strokeWidth": 1, "clip": true},
          "encoding": {
            "x": {"field": "i", "type": "quantitative", "scale": {"domain": [-0.375, 163.125], "nice": false, "zero": false}, "axis": null},
            "y": {"field": "b", "type": "quantitative", "title": null}
          }
        },
        {
          "data": {"name": "bars"},
          "mark": {"type": "rule", "color": "black", "strokeWidth": 1, "clip": true},
          "encoding": {
            "x": {"field": "i", "type": "quantitative", "scale": {"domain": [-0.375, 163.125], "nice": false, "zero": false}, "axis": null},
            "y": {
              "field": "l", "type": "quantitative", "title": null,
              "scale": {"domain": [1.0625, 1.1214], "nice": false, "zero": false},
              "axis": {"orient": "right", "values": [1.1198, 1.1128, 1.1056, 1.0774, 1.0701, 1.0634], "tickCount": 20, "format": ".5f", "title": null, "zindex": 0}
            },
            "y2": {"field": "h"}
          }
        },
        {
          "data": {"name": "bars"},
          "mark": {"type": "bar", "width": 2, "stroke": "black", "strokeWidth": 1, "clip": true},
          "encoding": {
            "x": {"field": "i", "type": "quantitative", "scale": {"domain": [-0.375, 163.125], "nice": false, "zero": false}, "axis": null},
            "y": {"field": "o", "type": "quantitative", "title": null},
            "y2": {"field": "c"},
            "fill": {"condition": {"test": "datum.c >= datum.o", "value": "white"}, "value": "black"}
          }
        },
        {
          "data": {"name": "bars"},
          "mark": {"type": "line", "color": "#3cb371", "strokeWidth": 3, "clip": true},
          "encoding": {
            "x": {"field": "i", "type": "quantitative", "scale": {"domain": [-0.375, 163.125], "nice": false, "zero": false}, "axis": null},
            "y": {"field": "bu", "type": "quantitative", "title": null}
          }
        },
        {
          "data": {"name": "bars"},
          "mark": {"type": "line", "color": "#3cb371", "strokeWidth": 3, "clip": true},
          "encoding": {
            "x": {"field": "i", "type": "quantitative", "scale": {"domain": [-0.375, 163.125], "nice": false, "zero": false}, "axis": null},
            "y": {"field": "bm", "type": "quantitative", "title": null}
          }
        },
        {
          "data": {"name": "bars"},
          "mark": {"type": "line", "color": "#3cb371", "strokeWidth": 3, "clip": true},
          "encoding": {
            "x": {"field": "i", "type": "quantitative", "scale": {"domain": [-0.375, 163.125], "nice": false, "zero": false}, "axis": null},
            "y": {"field": "bl", "type": "quantitative", "title": null}
          }
        },
        {
          "data": {"name": "bars"},
          "mark": {"type": "line", "color": "#ff0000", "strokeWidth": 1, "clip": true},
          "encoding": {
            "x": {"field": "i", "type": "quantitative", "scale": {"domain": [-0.375, 163.125], "nice": false, "zero": false}, "axis": null},
            "y": {"field": "tk", "type": "quantitative", "title": null}
          }
        },
        {
          "data": {"name": "bars"},
          "mark": {"type": "line", "color": "#0000ff", "strokeWidth": 1, "clip": true},
          "encoding": {
            "x": {"field": "i", "type": "quantitative", "scale": {"domain": [-0.375, 163.125], "nice": false, "zero": false}, "axis": null},
            "y": {"field": "kj", "type": "quantitative", "title": null}
          }
        },
        {
          "data": {"name": "bars"},
          "transform": [{"filter": "isValid(datum.ck)"}],
          "mark": {"type": "line", "color": "#00ff00", "strokeWidth": 1, "clip": true},
          "encoding": {
            "x": {"field": "i", "type": "quantitative", "scale": {"domain": [-0.375, 163.125], "nice": false, "zero": false}, "axis": null},
            "y": {"field": "ck", "type": "quantitative", "title": null}
          }
        },
        {
          "data": {"values": [{}]},
          "mark": {"type": "rule", "color": "#c0c0c0", "strokeWidth": 1},
          "encoding": {"y": {"datum": 1.0651, "type": "quantitative", "title": null}}
        },
        {
          "data": {"name": "levels"},
          "mark": {"type": "rule", "color": "#ff0000", "strokeWidth": 2},
          "encoding": {"y": {"field": "p", "type": "quantitative", "title": null}}
        },
        {
          "data": {"values": [{}]},
          "mark": {"type": "rule", "color": "black", "strokeWidth": 1},
          "encoding": {"y": {"datum": 1.0625, "type": "quantitative", "title": null}}
        },
        {
          "data": {"values": [{}]},
          "mark": {"type": "point", "shape": "M-1,-0.238H1V0.238H-1Z", "size": 1764, "filled": true, "color": "black", "opacity": 1, "strokeWidth": 0},
          "encoding": {
            "x": {"datum": 168.8, "type": "quantitative", "axis": null},
            "y": {"datum": 1.0651, "type": "quantitative", "title": null}
          }
        },
        {
          "data": {"name": "levels"},
          "mark": {"type": "point", "shape": "M-1,-0.238H1V0.238H-1Z", "size": 1764, "filled": true, "color": "#ff0000", "opacity": 1, "strokeWidth": 0},
          "encoding": {
            "x": {"datum": 168.8, "type": "quantitative", "axis": null},
            "y": {"field": "p", "type": "quantitative", "title": null}
          }
        },
        {
          "data": {"name": "levels"},
          "mark": {"type": "text", "align": "left", "baseline": "middle", "color": "white", "font": "Liberation Sans", "fontSize": 9},
          "encoding": {
            "x": {"datum": 164.9, "type": "quantitative", "axis": null},
            "y": {"field": "p", "type": "quantitative", "title": null},
            "text": {"field": "p", "format": ".5f"}
          }
        },
        {
          "data": {"values": [{}]},
          "mark": {"type": "point", "shape": "triangle-down", "size": 20, "filled": true, "color": "black", "opacity": 1},
          "encoding": {
            "x": {"datum": 0.75, "type": "quantitative", "axis": null},
            "y": {"datum": 1.1198, "type": "quantitative", "title": null}
          }
        },
        {
          "data": {"values": [{}]},
          "mark": {"type": "text", "align": "left", "baseline": "middle", "color": "black", "font": "Liberation Sans", "fontSize": 9},
          "encoding": {
            "x": {"datum": 3.625, "type": "quantitative", "axis": null},
            "y": {"datum": 1.11968, "type": "quantitative", "title": null},
            "text": {"value": "EURUSD,H4"}
          }
        }
      ]
    },
    {
      "width": 654,
      "height": 106,
      "layer": [
        {
          "data": {"name": "bars"},
          "mark": {"type": "bar", "width": 3, "color": "#00008b", "clip": true},
          "encoding": {
            "x": {"field": "i", "type": "quantitative", "scale": {"domain": [-0.375, 163.125], "nice": false, "zero": false}, "axis": null},
            "y": {
              "field": "m", "type": "quantitative", "title": null,
              "scale": {"domain": [-0.005141, 0.005607], "nice": false, "zero": false},
              "axis": {"orient": "right", "values": [0.004765, 0, -0.004601], "tickCount": 20, "labelPadding": 2, "labelExpr": "datum.value == 0 ? '0.00' : (datum.value < 0 ? '-' : '') + format(abs(datum.value), '.6f')", "title": null, "zindex": 0}
            },
            "y2": {"datum": 0}
          }
        },
        {
          "data": {"name": "bars"},
          "mark": {"type": "line", "color": "#ff0000", "strokeDash": [2, 2], "strokeWidth": 1, "clip": true},
          "encoding": {
            "x": {"field": "i", "type": "quantitative", "scale": {"domain": [-0.375, 163.125], "nice": false, "zero": false}, "axis": null},
            "y": {"field": "s", "type": "quantitative", "title": null}
          }
        },
        {
          "data": {"values": [{}]},
          "mark": {"type": "rule", "color": "black", "strokeWidth": 1},
          "encoding": {"y": {"datum": 0.005607, "type": "quantitative", "title": null}}
        },
        {
          "data": {"values": [{}]},
          "mark": {"type": "rule", "color": "black", "strokeWidth": 1},
          "encoding": {"y": {"datum": -0.005141, "type": "quantitative", "title": null}}
        },
        {
          "data": {"values": [{}]},
          "mark": {"type": "text", "align": "left", "baseline": "middle", "color": "black", "font": "Liberation Sans", "fontSize": 9},
          "encoding": {
            "x": {"datum": 0.625, "type": "quantitative", "axis": null},
            "y": {"datum": 0.004695, "type": "quantitative", "title": null},
            "text": {"value": "MACD(12,26,9) -0.003907 -0.002658"}
          }
        }
      ]
    },
    {
      "width": 654,
      "height": 95,
      "layer": [
        {
          "data": {"name": "bars"},
          "mark": {"type": "line", "color": "#20b2aa", "strokeWidth": 2, "clip": true},
          "encoding": {
            "x": {
              "field": "i", "type": "quantitative", "title": null,
              "scale": {"domain": [-0.375, 163.125], "nice": false, "zero": false},
              "axis": {
                "orient": "bottom",
                "values": [-0.375, 15.625, 31.625, 47.625, 63.625, 79.625, 95.625, 111.625, 127.625],
                "tickCount": 20,
                "labelExpr": "['28 Mar 2022','30 Mar 20:00','4 Apr 12:00','7 Apr 04:00','11 Apr 20:00','14 Apr 12:00','19 Apr 04:00','21 Apr 20:00','26 Apr 12:00'][round((datum.value + 0.375) / 16)]",
                "labelFlush": false,
                "title": null,
                "zindex": 0
              }
            },
            "y": {
              "field": "k", "type": "quantitative", "title": null,
              "scale": {"domain": [-0.4, 103.2], "nice": false, "zero": false},
              "axis": {
                "orient": "right",
                "values": [100, 80, 20, 0],
                "tickCount": 20,
                "format": "d",
                "labelFlush": false,
                "labelBaseline": {"condition": [{"test": "datum.value >= 100", "value": "top"}, {"test": "datum.value <= 0", "value": "bottom"}], "value": "middle"},
                "grid": true,
                "gridColor": "#c0c0c0",
                "gridDash": [3, 3],
                "gridOpacity": {"condition": {"test": "datum.value == 80 || datum.value == 20", "value": 1}, "value": 0},
                "title": null,
                "zindex": 0
              }
            }
          }
        },
        {
          "data": {"name": "bars"},
          "mark": {"type": "line", "color": "#ff0000", "strokeDash": [2, 2], "strokeWidth": 1, "clip": true},
          "encoding": {
            "x": {"field": "i", "type": "quantitative", "title": null, "scale": {"domain": [-0.375, 163.125], "nice": false, "zero": false}},
            "y": {"field": "d", "type": "quantitative", "title": null}
          }
        },
        {
          "data": {"values": [{}]},
          "mark": {"type": "rule", "color": "black", "strokeWidth": 1},
          "encoding": {"y": {"datum": 103.2, "type": "quantitative", "title": null}}
        },
        {
          "data": {"values": [{}]},
          "mark": {"type": "text", "align": "left", "baseline": "middle", "color": "black", "font": "Liberation Sans", "fontSize": 9},
          "encoding": {
            "x": {"datum": 0.625, "type": "quantitative", "title": null},
            "y": {"datum": 91.2, "type": "quantitative", "title": null},
            "text": {"value": "Stoch(5,3,3) 12.0472 23.6663"}
          }
        }
      ]
    }
  ],
  "config": {
    "font": "Liberation Sans",
    "view": {"stroke": null},
    "axis": {
      "labelFont": "Liberation Sans",
      "labelFontSize": 9,
      "labelColor": "black",
      "domainColor": "black",
      "tickColor": "black",
      "grid": false,
      "tickSize": 3,
      "labelPadding": 4,
      "labelOverlap": false
    },
    "axisBottom": {"tickSize": 4, "labelPadding": 1, "labelAlign": "left", "labelDx": 1}
  }
}
